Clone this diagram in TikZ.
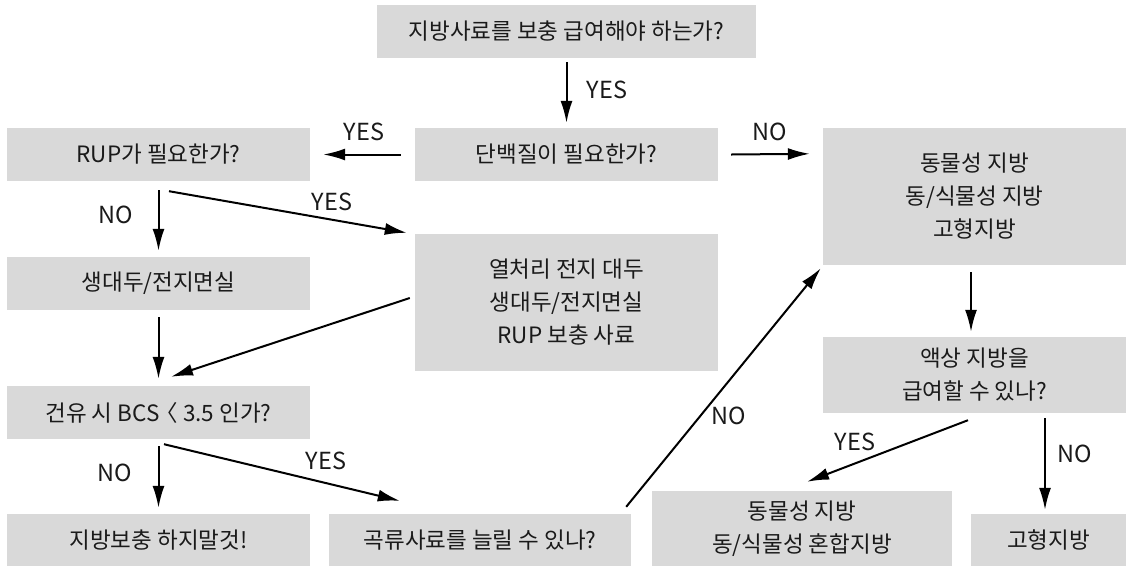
\documentclass[tikz,border=0pt]{standalone}
\usepackage{fontspec}
\setmainfont{Noto Sans CJK KR}
\usetikzlibrary{arrows.meta}
\definecolor{boxgray}{HTML}{D9D9D9}
\definecolor{txt}{HTML}{1A1A1A}
\tikzset{
  box/.style={fill=boxgray, draw=none, inner sep=0pt, align=center, text=txt,
    font=\fontsize{22.5}{33}\selectfont},
  arr/.style={draw=black, line width=2pt, -{Latex[length=22pt,width=12pt]}},
  lbl/.style={inner sep=0pt, text=txt, font=\fontsize{23.5}{25}\selectfont}
}
\begin{document}
\begin{tikzpicture}[x=1pt,y=-1pt]
\useasboundingbox (0,0) rectangle (1126,566);
% boxes
\node[box, minimum width=379pt, minimum height=53pt] (q1) at (566.5,31.5) {지방사료를 보충 급여해야 하는가?};
\node[box, minimum width=303pt, minimum height=53pt] (prot) at (566.5,154.5) {단백질이 필요한가?};
\node[box, minimum width=303pt, minimum height=53pt] (rup) at (158.5,154.5) {RUP가 필요한가?};
\node[box, minimum width=303pt, minimum height=53pt] (raw) at (158.5,283.5) {생대두/전지면실};
\node[box, minimum width=303pt, minimum height=137pt] (heat) at (566.5,302.5) {열처리 전지 대두\\생대두/전지면실\\RUP 보충 사료};
\node[box, minimum width=303pt, minimum height=137pt] (animal) at (974.5,196.5) {동물성 지방\\동/식물성 지방\\고형지방};
\node[box, minimum width=303pt, minimum height=53pt] (bcs) at (158.5,412.5) {건유 시 BCS \kern-0.4em〈 3.5 인가?};
\node[box, minimum width=303pt, minimum height=52pt] (none) at (158.5,540) {지방보충 하지말것!};
\node[box, minimum width=302pt, minimum height=52pt] (grain) at (480,540) {곡류사료를 늘릴 수 있나?};
\node[box, minimum width=303pt, minimum height=76pt] (liquid) at (974.5,375) {액상 지방을\\급여할 수 있나?};
\node[box, minimum width=300pt, minimum height=75pt] (mix) at (802,528.5) {동물성 지방\\동/식물성 혼합지방};
\node[box, minimum width=155pt, minimum height=52pt] (solid) at (1048.5,540) {고형지방};
% connectors
\draw[arr] ([shift={(0,4)}]q1.south) -- ([shift={(0,-5)}]prot.north);
\draw[arr] ([shift={(-14,0)}]prot.west) -- ([shift={(13,0)}]rup.east);
\draw[arr] ([shift={(13,0)}]prot.east) -- ([shift={(-13,26)}]animal.north west);
\draw[arr] ([shift={(0,9)}]rup.south) -- ([shift={(0,-6)}]raw.north);
\draw[arr] ([shift={(10.5,10)}]rup.south) -- ([shift={(-8,-1)}]heat.north west);
\draw[arr] ([shift={(0,7)}]raw.south) -- ([shift={(0,-7)}]bcs.north);
\draw[arr] ([shift={(-5,-4.5)}]heat.west) -- ([shift={(12.5,-9)}]bcs.north);
\draw[arr] ([shift={(0,7)}]bcs.south) -- ([shift={(0,-6)}]none.north);
\draw[arr] ([shift={(5.5,5)}]bcs.south) -- ([shift={(71,-13)}]grain.north west);
\draw[arr] ([shift={(-5,-7)}]grain.north east) -- ([shift={(-2,3)}]animal.south west);
\draw[arr] ([shift={(-3.5,7)}]animal.south) -- ([shift={(-3.5,-5)}]liquid.north);
\draw[arr] ([shift={(-6.5,7)}]liquid.south) -- ([shift={(5,-9)}]mix.north);
\draw[arr] ([shift={(70.5,5)}]liquid.south) -- ([shift={(-3.5,-4)}]solid.north);
% labels
\node[lbl] (l1) at (607,90) {YES};
\node[lbl] (l2) at (364,132) {YES};
\node[lbl] (l3) at (770,132) {NO};
\node[lbl] (l4) at (116,215) {NO};
\node[lbl] (l5) at (332,202) {YES};
\node[lbl] (l6) at (115,473) {NO};
\node[lbl] (l7) at (326,461) {YES};
\node[lbl] (l8) at (729,416) {NO};
\node[lbl] (l9) at (855,442) {YES};
\node[lbl] (l10) at (1075,454) {NO};
\end{tikzpicture}
\end{document}
